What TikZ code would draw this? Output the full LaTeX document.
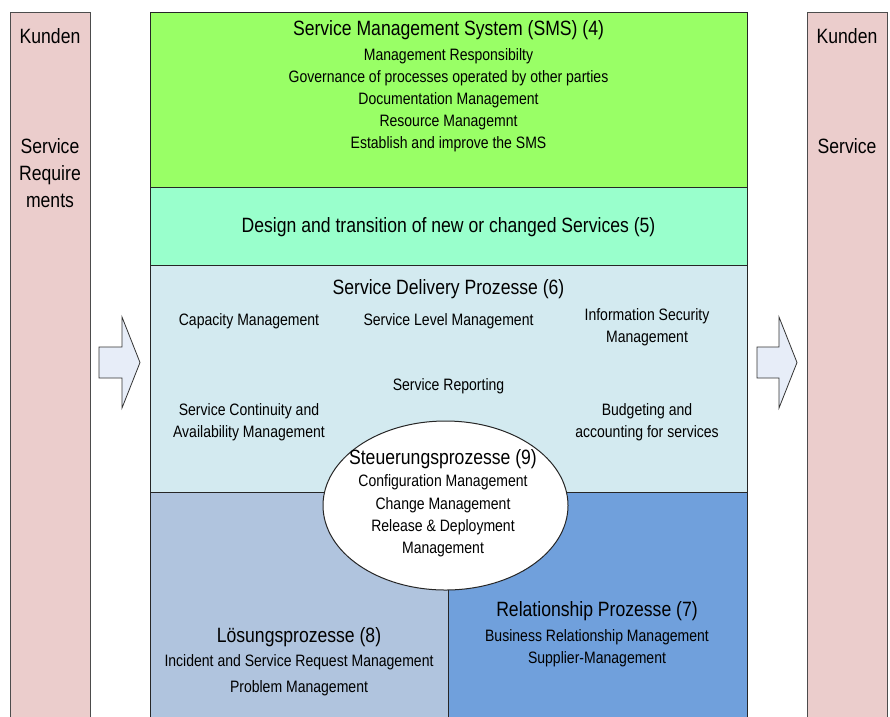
\documentclass[tikz,border=0pt]{standalone}
\usepackage{fontspec}
\setmainfont{Liberation Sans}[FakeStretch=0.85]
\usetikzlibrary{shapes}

\definecolor{kundenrot}{RGB}{235,205,204}
\definecolor{smsgruen}{RGB}{153,255,102}
\definecolor{designgruen}{RGB}{153,255,204}
\definecolor{deliveryblau}{RGB}{211,234,240}
\definecolor{loesungblau}{RGB}{176,196,222}
\definecolor{relationblau}{RGB}{112,160,220}
\definecolor{pfeilblau}{RGB}{231,237,248}

\begin{document}
\begin{tikzpicture}[x=1pt,y=-1pt]
	\tikzstyle{box}=[draw=black!85, line width=1pt, inner sep=0pt, anchor=north west, minimum width=597pt]
	\tikzstyle{kunde}=[draw=black!70, line width=1pt, fill=kundenrot, inner sep=0pt, anchor=north west, minimum width=80pt, minimum height=720pt]
	\tikzstyle{pfeil}=[draw=black!80, line width=0.8pt, fill=pfeilblau, line join=miter]
	\tikzstyle{titel}=[font=\fontsize{20.7}{27}\selectfont, align=center, inner sep=0pt, yshift=-1.5pt]
	\tikzstyle{punkte}=[font=\fontsize{16.5}{22}\selectfont, align=center, inner sep=0pt, yshift=-1.5pt]
	\newcommand\Xmain{150}
	\newcommand\Xmid{448.5}
	\newcommand\Xlinks{249}
	\newcommand\Xrechts{647}

	\clip (0,0) rectangle (890,716);

	% Kunden
	\node [kunde] at (10,12) (kundenL) {};
	\node [kunde] at (807,12) (kundenR) {};
	\node [titel] at (50,35) (kundenLtxt) {Kunden};
	\node [titel] at (50,172) (requirements) {Service\\Require\\ments};
	\node [titel] at (847,35) (kundenRtxt) {Kunden};
	\node [titel] at (847,145) (service) {Service};

	% Pfeile
	\coordinate (pfeilL) at (99,362.5);
	\coordinate (pfeilR) at (757,362.5);
	\draw [pfeil] (pfeilL) ++(0,-15.5) -- ++(23,0) -- ++(0,-30) -- ++(18,45.5) -- ++(-18,45.5) -- ++(0,-30) -- ++(-23,0) -- cycle;
	\draw [pfeil] (pfeilR) ++(0,-15.5) -- ++(22,0) -- ++(0,-30) -- ++(18,45.5) -- ++(-18,45.5) -- ++(0,-30) -- ++(-22,0) -- cycle;

	% Bloecke
	\node [box, fill=smsgruen, minimum height=175pt] at (\Xmain,12) (sms) {};
	\node [box, fill=designgruen, minimum height=78pt] at (\Xmain,187) (design) {};
	\node [box, fill=deliveryblau, minimum height=227pt] at (\Xmain,265) (delivery) {};
	\node [box, fill=loesungblau, minimum width=298pt, minimum height=230pt] at (\Xmain,492) (loesung) {};
	\node [box, fill=relationblau, minimum width=299pt, minimum height=230pt] at (448,492) (relation) {};

	% SMS
	\node [titel] at (\Xmid,29) (smstitel) {Service Management System (SMS) (4)};
	\node [punkte] at (\Xmid,99) (smspunkte) {Management Responsibilty\\Governance of processes operated by other parties\\Documentation Management\\Resource Managemnt\\Establish and improve the SMS};

	% Design
	\node [titel] at (\Xmid,226) (designtitel) {Design and transition of new or changed Services (5)};

	% Service Delivery
	\node [titel] at (\Xmid,288) (deliverytitel) {Service Delivery Prozesse (6)};
	\node [punkte] at (\Xlinks,320) (capacity) {Capacity Management};
	\node [punkte] at (\Xmid,320) (level) {Service Level Management};
	\node [punkte] at (\Xrechts,326) (security) {Information Security\\Management};
	\node [punkte] at (\Xmid,385) (reporting) {Service Reporting};
	\node [punkte] at (\Xlinks,421) (continuity) {Service Continuity and\\Availability Management};
	\node [punkte] at (\Xrechts,421) (budgeting) {Budgeting and\\accounting for services};

	% Steuerung
	\node [draw=black!85, line width=1pt, fill=white, ellipse, minimum width=245pt, minimum height=169pt] at (445.5,505.5) (steuerung) {};
	\node [titel] at (443,458) (steuerungtitel) {Steuerungsprozesse (9)};
	\node [punkte, font=\fontsize{16.5}{22.4}\selectfont] at (443,514.5) (steuerungpunkte) {Configuration Management\\Change Management\\Release \& Deployment\\Management};

	% Relationship
	\node [titel] at (597,610) (relationtitel) {Relationship Prozesse (7)};
	\node [punkte] at (597,647) (relationpunkte) {Business Relationship Management\\Supplier-Management};

	% Loesung
	\node [titel] at (299,636) (loesungtitel) {Lösungsprozesse (8)};
	\node [punkte] at (299,674) (loesungpunkte) {Incident and Service Request Management\\[4pt]Problem Management};
\end{tikzpicture}
\end{document}
